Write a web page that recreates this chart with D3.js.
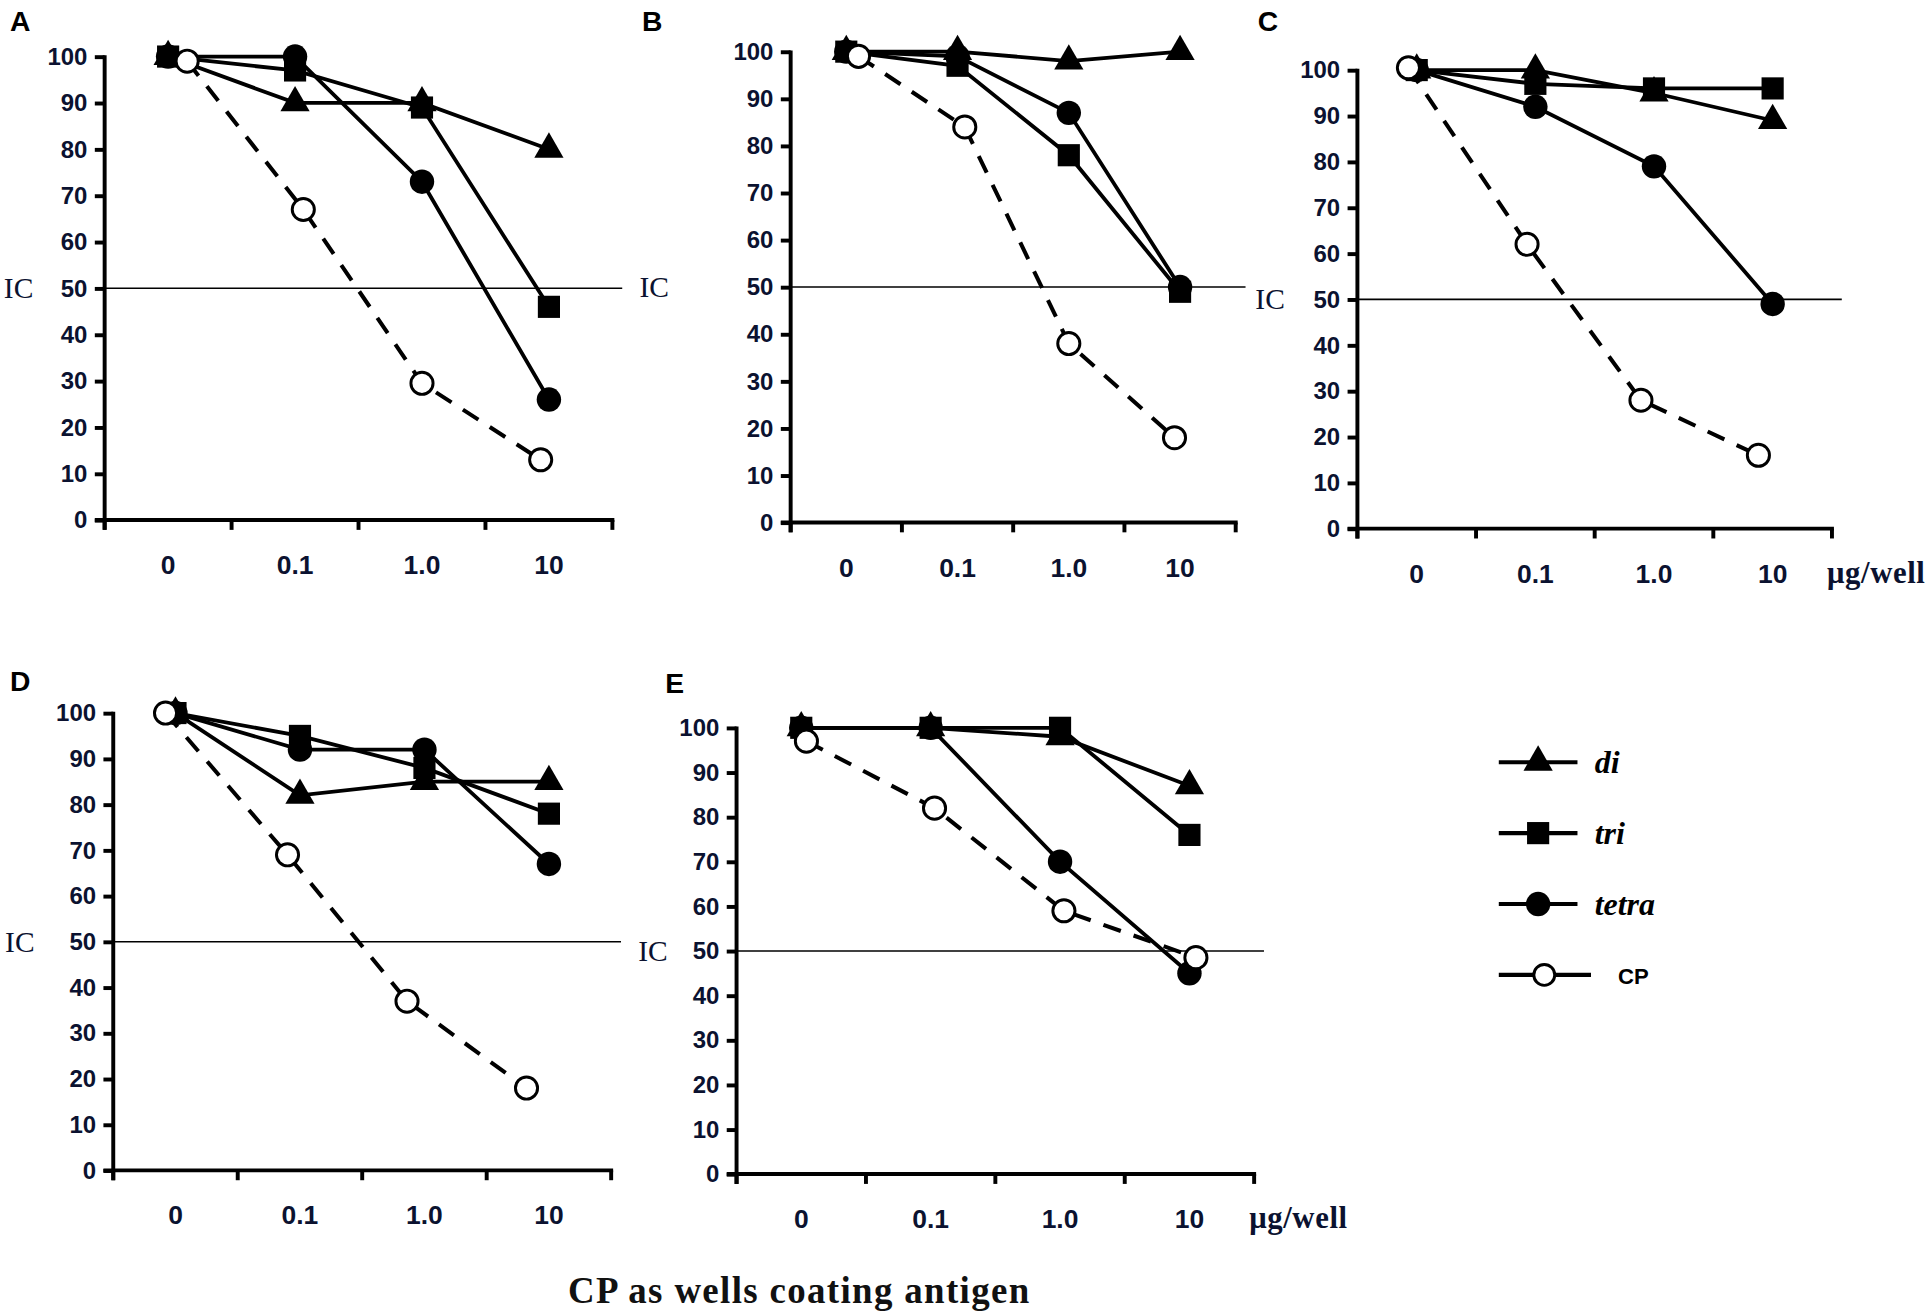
<!DOCTYPE html>
<html lang="en">
	<head>
		<meta charset="utf-8">
		<title>CP as wells coating antigen</title>
		<script type="text/javascript" src="https://d3js.org/d3.v7.min.js"></script>
		<style type="text/css">
			body { margin: 0; background: #fff; }
			svg { display: block; }
		</style>
	</head>
	<body>
		<script type="text/javascript">

			// Doses (x categories) and y ticks
			var doses = ["0", "0.1", "1.0", "10"];
			var yTicks = [0, 10, 20, 30, 40, 50, 60, 70, 80, 90, 100];
			var panelNames = ["A", "B", "C", "D", "E"];

			// Values, one row per panel (A..E)
			var diValues = [
				[100, 90, 90, 80],
				[100, 100, 98, 100],
				[100, 100, 95, 89],
				[100, 82, 85, 85],
				[100, 100, 98, 87]
			];
			var triValues = [
				[100, 97, 89, 46],
				[100, 97, 78, 49],
				[100, 97, 96, 96],
				[100, 95, 88, 78],
				[100, 100, 100, 76]
			];
			var tetraValues = [
				[100, 100, 73, 26],
				[100, 99, 87, 50],
				[100, 92, 79, 49],
				[100, 92, 92, 67],
				[100, 100, 70, 45]
			];
			var cpValues = [
				[99, 67, 29.5, 13],
				[99, 84, 38, 18],
				[100.5, 62, 28, 16],
				[100, 69, 37, 18],
				[97, 82, 59, 48.5]
			];
			// CP points sit a little off the dose centre (in band widths)
			var cpDoseOffset = [
				[0.15, 0.065, 0, -0.065],
				[0.11, 0.065, 0, -0.05],
				[-0.07, -0.07, -0.11, -0.12],
				[-0.08, -0.1, -0.14, -0.18],
				[0.04, 0.03, 0.03, 0.05]
			];

			var legendNames = ["di", "tri", "tetra", "CP"];

			// Panel frames (layout)
			var frames = [
				{ x0: 85,   x1: 498,  top: 46,  bot: 423, lx: 8,   ly: 25,  icx: 3,   unit: false },
				{ x0: 643,  x1: 1005, top: 42,  bot: 425, lx: 522, ly: 25,  icx: 520, unit: false },
				{ x0: 1104, x1: 1490, top: 57,  bot: 430, lx: 1023, ly: 25, icx: 1021, unit: true },
				{ x0: 92,   x1: 497,  top: 580, bot: 952, lx: 8,   ly: 562, icx: 4,   unit: false },
				{ x0: 599,  x1: 1020, top: 592, bot: 955, lx: 541, ly: 564, icx: 519, unit: true }
			];

			var w = 1568, h = 1068;
			var ink = "#000";
			var labelInk = "#0b1230";
			var sans = "'Liberation Sans', Arial, sans-serif";
			var serif = "'Liberation Serif', 'Times New Roman', serif";

			var svg = d3.select("body")
						.append("svg")
						.attr("width", 1928)
						.attr("height", 1313)
						.attr("viewBox", "0 0 " + w + " " + h);

			var triangle = d3.symbol().type(d3.symbolTriangle).size(245);
			var square = d3.symbol().type(d3.symbolSquare).size(325);
			var dot = d3.symbol().type(d3.symbolCircle).size(310);

			function drawPanel(i) {
				var f = frames[i];
				var g = svg.append("g");

				var x = d3.scaleBand().domain(doses).range([f.x0, f.x1]);
				var y = d3.scaleLinear().domain([0, 100]).range([f.bot, f.top]);
				var cx = function(j) { return x(doses[j]) + x.bandwidth() / 2; };

				// panel letter
				g.append("text")
					.attr("x", f.lx).attr("y", f.ly)
					.style("font-family", sans)
					.style("font-weight", "bold").style("font-size", "23px")
					.text(panelNames[i]);

				// y axis
				var yAxis = g.append("g")
					.attr("transform", "translate(" + f.x0 + ",0)")
					.call(d3.axisLeft(y).tickValues(yTicks).tickSize(8).tickSizeOuter(0).tickPadding(6));
				yAxis.select(".domain").attr("stroke", ink).attr("stroke-width", 3.2)
					.attr("d", "M0," + (f.top - 1) + "V" + (f.bot + 8));
				yAxis.selectAll(".tick line").attr("stroke", ink).attr("stroke-width", 3.2);
				yAxis.selectAll(".tick text")
					.attr("fill", labelInk)
					.style("font-family", sans)
					.style("font-weight", "bold").style("font-size", "19.5px");

				// x axis: ticks on band edges, labels in band centres
				g.append("line")
					.attr("x1", f.x0 - 8).attr("x2", f.x1 + 1.6)
					.attr("y1", f.bot).attr("y2", f.bot)
					.attr("stroke", ink).attr("stroke-width", 3.2);
				g.selectAll(".xtick")
					.data(doses.map(function(d) { return x(d); }).concat([f.x1]))
					.enter().append("line")
					.attr("x1", function(d) { return d; }).attr("x2", function(d) { return d; })
					.attr("y1", f.bot).attr("y2", f.bot + 8)
					.attr("stroke", ink).attr("stroke-width", 3.2);
				g.selectAll(".xlabel")
					.data(doses)
					.enter().append("text")
					.attr("x", function(d, j) { return cx(j); })
					.attr("y", f.bot + 44)
					.attr("text-anchor", "middle")
					.attr("fill", labelInk)
					.style("font-family", sans)
					.style("font-weight", "bold").style("font-size", "21.5px")
					.text(function(d) { return d; });

				if (f.unit) {
					g.append("text")
						.attr("x", f.x1 - 4).attr("y", f.bot + 44)
						.attr("fill", labelInk)
						.style("font-family", serif)
						.style("font-weight", "bold").style("font-size", "25px")
						.style("letter-spacing", "0.5px")
						.text("μg/well");
				}

				// IC50 reference line
				g.append("line")
					.attr("x1", f.x0).attr("x2", f.x1 + 8)
					.attr("y1", y(50)).attr("y2", y(50))
					.attr("stroke", ink).attr("stroke-width", 1.3);
				g.append("text")
					.attr("x", f.icx).attr("y", y(50) + 8)
					.attr("fill", labelInk)
					.style("font-family", serif)
					.style("font-size", "24px")
					.text("IC");

				var line = d3.line()
					.x(function(d, j) { return cx(j); })
					.y(function(d) { return y(d); });
				var cpX = function(d, j) { return cx(j) + cpDoseOffset[i][j] * x.bandwidth(); };
				var cpLine = d3.line()
					.x(cpX)
					.y(function(d) { return y(d); });

				// CP dashed line
				g.append("path")
					.attr("d", cpLine(cpValues[i]))
					.attr("fill", "none").attr("stroke", ink)
					.attr("stroke-width", 3.3).attr("stroke-dasharray", "15,11");

				var series = [
					{ vals: diValues[i], sym: triangle },
					{ vals: triValues[i], sym: square },
					{ vals: tetraValues[i], sym: dot }
				];
				series.forEach(function(s) {
					g.append("path")
						.attr("d", line(s.vals))
						.attr("fill", "none").attr("stroke", ink).attr("stroke-width", 3.1);
				});
				series.forEach(function(s) {
					g.selectAll(null)
						.data(s.vals)
						.enter().append("path")
						.attr("d", s.sym)
						.attr("transform", function(d, j) { return "translate(" + cx(j) + "," + y(d) + ")"; })
						.attr("fill", ink);
				});

				// CP open circles
				g.selectAll(null)
					.data(cpValues[i])
					.enter().append("circle")
					.attr("cx", cpX)
					.attr("cy", function(d) { return y(d); })
					.attr("r", 9)
					.attr("fill", "#fff").attr("stroke", ink).attr("stroke-width", 2.4);
			}

			for (var i = 0; i < panelNames.length; i++) drawPanel(i);

			// Legend
			var legY = d3.scalePoint().domain(legendNames).range([620, 793]);
			var leg = svg.append("g");
			legendNames.forEach(function(name, k) {
				var yy = legY(name);
				var isCP = name === "CP";
				leg.append("line")
					.attr("x1", 1219).attr("x2", isCP ? 1294 : 1283)
					.attr("y1", yy).attr("y2", yy)
					.attr("stroke", ink).attr("stroke-width", 3.4);
				var mx = isCP ? 1256 : 1251;
				if (isCP) {
					leg.append("circle").attr("cx", mx).attr("cy", yy).attr("r", 8.5)
						.attr("fill", "#fff").attr("stroke", ink).attr("stroke-width", 2.4);
				} else {
					var sym = [triangle, square, dot][k];
					leg.append("path").attr("d", sym)
						.attr("transform", "translate(" + mx + "," + yy + ")")
						.attr("fill", ink);
				}
				leg.append("text")
					.attr("x", isCP ? 1316 : 1297).attr("y", yy + (isCP ? 7 : 9))
					.attr("fill", ink)
					.style("font-family", isCP ? sans : serif)
					.style("font-style", isCP ? "normal" : "italic")
					.style("font-weight", "bold")
					.style("font-size", isCP ? "18px" : "26px")
					.text(name);
			});

			// Caption
			svg.append("text")
				.attr("x", 650).attr("y", 1060)
				.attr("text-anchor", "middle")
				.attr("fill", "#111")
				.style("font-family", serif)
				.style("font-weight", "bold").style("font-size", "30px")
				.style("letter-spacing", "1.1px")
				.text("CP as wells coating antigen");

		</script>
	</body>
</html>
